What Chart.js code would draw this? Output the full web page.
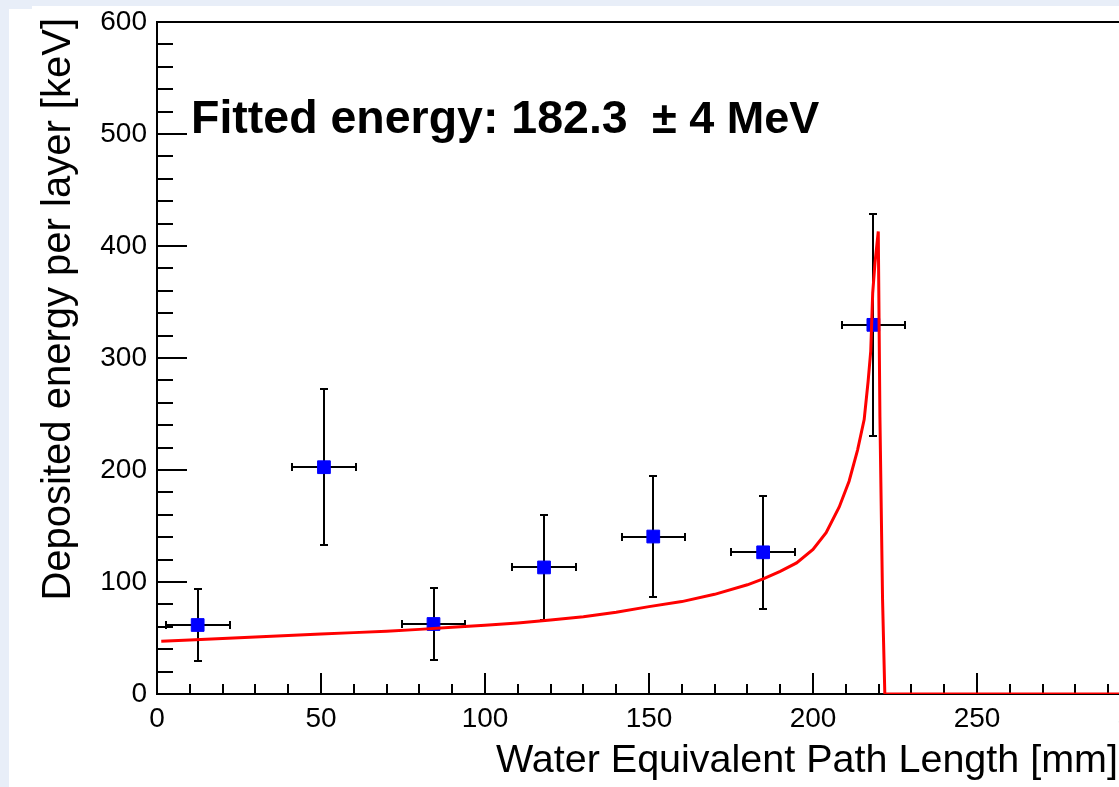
<!DOCTYPE html>
<html>
<head>
<meta charset="utf-8">
<script src="https://cdn.jsdelivr.net/npm/chart.js@4.4.1/dist/chart.umd.min.js"></script>
<style>
html,body{margin:0;padding:0;overflow:hidden;background:#e8eef8;width:1119px;height:787px;}
#wrap{position:absolute;left:0;top:0;width:1180px;height:787px;}
canvas{display:block;}
</style>
</head>
<body>
<div id="wrap"><canvas id="c" width="1180" height="787"></canvas></div>
<script>
// ---- measured data points (Water Equivalent Path Length [mm], Deposited energy [keV]) ----
const pointX    = [12.4, 50.9, 84.3, 118.0, 151.3, 184.8, 218.4];
const pointY    = [61.6, 202.5, 62.5, 113.0, 140.6, 126.5, 329.6];
const pointXErr = [9.8, 9.8, 9.6, 9.8, 9.6, 9.8, 9.6];
const pointYErr = [32.3, 69.5, 32.3, 46.5, 54.3, 50.3, 99.0];

// ---- fitted Bragg curve ----
const curveX = [1.3, 10, 20, 30, 40, 50, 60, 70, 80, 90, 100, 110, 120, 130, 140, 150, 160, 170, 180, 185, 190, 195, 200, 204, 208, 211, 213.6, 215.6, 216.8, 217.6, 218.2, 218.9, 219.9, 220.4, 221.2, 221.9, 300];
const curveY = [47, 48.3, 49.6, 50.9, 52.2, 53.5, 54.8, 56.1, 57.7, 59.5, 61.3, 63.5, 66, 69, 73, 78, 82.5, 89, 97.5, 103, 109.5, 117, 129, 144, 167, 190, 218, 245, 279, 306, 358, 385, 413, 248, 85, 0, 0];

// ---- axes ----
const xRange = [0, 300];
const yRange = [0, 600];
const xMajorStep = 50, xMinorStep = 10;
const yMajorStep = 100, yMinorStep = 20;

// ---- texts ----
const xTitle = 'Water Equivalent Path Length [mm]';
const yTitle = 'Deposited energy per layer [keV]';
const fitText = 'Fitted energy: 182.3';
const fitErrText = '\u00B1 4 MeV';

const FONT = "'Liberation Sans', Arial, Helvetica, sans-serif";

const rootStyle = {
  id: 'rootStyle',
  beforeDraw(chart) {
    const c = chart.ctx;
    c.save();
    c.fillStyle = '#e8eef8';
    c.fillRect(0, 0, chart.width, chart.height);
    c.fillStyle = '#ffffff';
    c.fillRect(9, 9, chart.width, chart.height);
    c.fillRect(32, 6, chart.width, chart.height);
    c.restore();
  },
  beforeDatasetsDraw(chart) {
    const c = chart.ctx;
    const xs = chart.scales.x, ys = chart.scales.y;
    const a = chart.chartArea;
    const R = Math.round;
    c.save();
    c.strokeStyle = '#000';
    c.lineWidth = 2;
    // top frame
    c.beginPath();
    c.moveTo(a.left, R(a.top));
    c.lineTo(a.right, R(a.top));
    c.stroke();
    // x ticks (inward)
    c.beginPath();
    for (let v = xRange[0]; v <= xRange[1] + 1e-6; v += xMinorStep) {
      const px = R(xs.getPixelForValue(v));
      const major = Math.abs(v % xMajorStep) < 1e-6;
      const len = major ? 21 : 10;
      c.moveTo(px, a.bottom);
      c.lineTo(px, a.bottom - len);
    }
    // y ticks (inward)
    for (let v = yRange[0]; v <= yRange[1] + 1e-6; v += yMinorStep) {
      const py = R(ys.getPixelForValue(v));
      const major = Math.abs(v % yMajorStep) < 1e-6;
      const len = major ? 30 : 16;
      c.moveTo(a.left, py);
      c.lineTo(a.left + len, py);
    }
    c.stroke();
    // error bars
    c.beginPath();
    const cap = 4;
    for (let i = 0; i < pointX.length; i++) {
      const px = R(xs.getPixelForValue(pointX[i]));
      const py = R(ys.getPixelForValue(pointY[i]));
      const x0 = R(xs.getPixelForValue(pointX[i] - pointXErr[i]));
      const x1 = R(xs.getPixelForValue(pointX[i] + pointXErr[i]));
      const y0 = R(ys.getPixelForValue(pointY[i] - pointYErr[i]));
      const y1 = R(ys.getPixelForValue(pointY[i] + pointYErr[i]));
      c.moveTo(x0, py); c.lineTo(x1, py);
      c.moveTo(x0, py - cap); c.lineTo(x0, py + cap);
      c.moveTo(x1, py - cap); c.lineTo(x1, py + cap);
      c.moveTo(px, y0); c.lineTo(px, y1);
      c.moveTo(px - cap, y0); c.lineTo(px + cap, y0);
      c.moveTo(px - cap, y1); c.lineTo(px + cap, y1);
    }
    c.stroke();
    c.restore();
  },
  afterDraw(chart) {
    const c = chart.ctx;
    c.save();
    c.fillStyle = '#000';
    // x title
    c.font = `39.5px ${FONT}`;
    c.textAlign = 'right';
    c.textBaseline = 'alphabetic';
    c.fillText(xTitle, 1118, 772);
    // y title
    c.font = `40px ${FONT}`;
    c.save();
    c.translate(70, 18);
    c.rotate(-Math.PI / 2);
    c.textAlign = 'right';
    c.fillText(yTitle, 0, 0);
    c.restore();
    // fitted energy annotation
    c.font = `bold 46.5px ${FONT}`;
    c.textAlign = 'left';
    c.fillText(fitText, 191, 133);
    c.font = `bold 45px ${FONT}`;
    c.fillText(fitErrText, 652, 133);
    c.restore();
  }
};

const pts = pointX.map((x, i) => ({ x: x, y: pointY[i] }));
const curve = curveX.map((x, i) => ({ x: x, y: curveY[i] }));

new Chart(document.getElementById('c'), {
  type: 'scatter',
  data: {
    datasets: [
      {
        label: 'fit',
        data: curve,
        showLine: true,
        borderColor: '#ff0000',
        borderWidth: 3,
        pointRadius: 0,
        tension: 0,
        order: 0
      },
      {
        label: 'data',
        data: pts,
        pointStyle: 'rect',
        pointRadius: 9,
        pointBackgroundColor: '#0000ff',
        pointBorderColor: '#0000ff',
        pointBorderWidth: 1,
        showLine: false,
        order: 1
      }
    ]
  },
  options: {
    responsive: false,
    animation: false,
    devicePixelRatio: 1,
    layout: { padding: { left: 0, top: 22, right: 39, bottom: 0 } },
    plugins: { legend: { display: false }, tooltip: { enabled: false } },
    scales: {
      x: {
        type: 'linear',
        min: xRange[0], max: xRange[1],
        afterFit(s) { s.height = 93; },
        grid: { display: false, drawTicks: false },
        border: { display: true, color: '#000', width: 2 },
        ticks: { stepSize: xMajorStep, color: '#000', font: { family: FONT, size: 28 }, padding: 8, maxRotation: 0, autoSkip: false }
      },
      y: {
        type: 'linear',
        min: yRange[0], max: yRange[1],
        afterFit(s) { s.width = 157; },
        grid: { display: false, drawTicks: false },
        border: { display: true, color: '#000', width: 2 },
        ticks: { stepSize: yMajorStep, color: '#000', font: { family: FONT, size: 28, lineHeight: 0.8 }, padding: 10 }
      }
    }
  },
  plugins: [rootStyle]
});
</script>
</body>
</html>
